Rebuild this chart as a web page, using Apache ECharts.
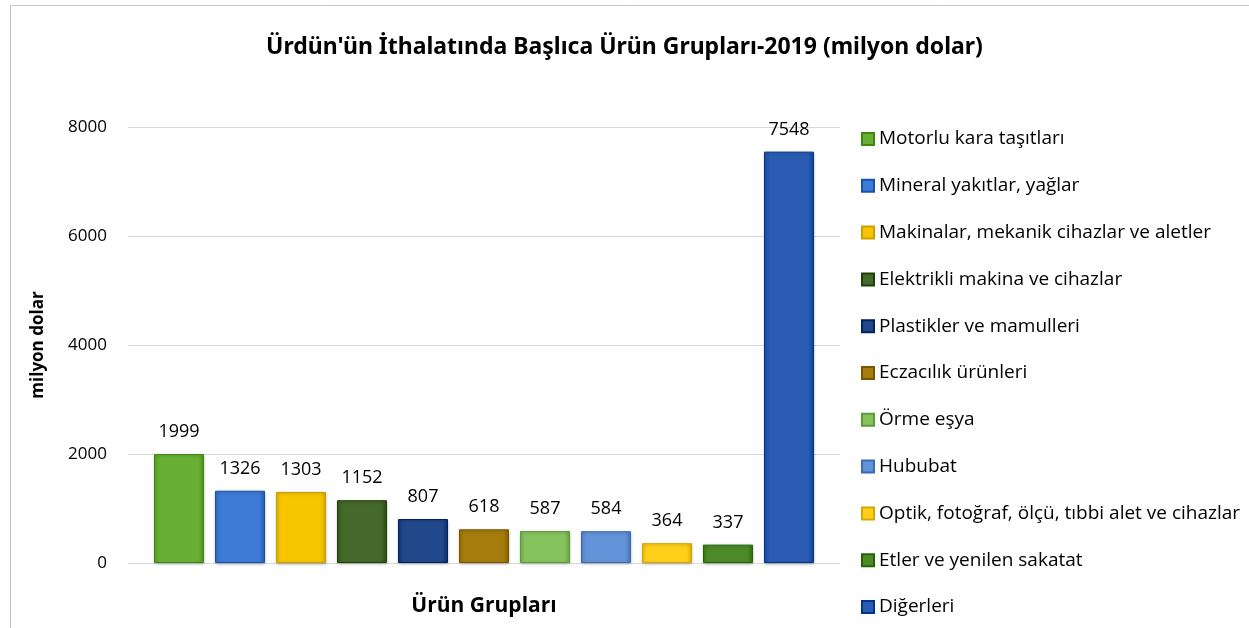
<!DOCTYPE html>
<html>
<head>
<meta charset="utf-8">
<title>Ürdün ithalat 2019</title>
<script src="https://cdn.jsdelivr.net/npm/echarts@6/dist/echarts.min.js"></script>
<style>
  html, body { margin: 0; padding: 0; background: #fff; }
  #main { width: 1249px; height: 628px; }
</style>
</head>
<body>
<div id="main"></div>
<script>
// ürün grupları ve değerleri (milyon dolar)
var categories = [
    'Motorlu kara taşıtları',
    'Mineral yakıtlar, yağlar',
    'Makinalar, mekanik cihazlar ve aletler',
    'Elektrikli makina ve cihazlar',
    'Plastikler ve mamulleri',
    'Eczacılık ürünleri',
    'Örme eşya',
    'Hububat',
    'Optik, fotoğraf, ölçü, tıbbi alet ve cihazlar',
    'Etler ve yenilen sakatat',
    'Diğerleri'
];
var values = [1999, 1326, 1303, 1152, 807, 618, 587, 584, 364, 337, 7548];
var colors = ['#67b035', '#3d7bd6', '#f7c600', '#44692b', '#21488a', '#a67c0c',
              '#86c25e', '#6393d8', '#ffcf1a', '#4c8a2a', '#2a5cb4'];

function shade(hex, amt) {
    var n = parseInt(hex.slice(1), 16);
    var r = Math.min(255, Math.max(0, (n >> 16) + amt));
    var g = Math.min(255, Math.max(0, ((n >> 8) & 255) + amt));
    var b = Math.min(255, Math.max(0, (n & 255) + amt));
    return 'rgb(' + r + ',' + g + ',' + b + ')';
}

var myChart = echarts.init(document.getElementById('main'));

var seriesList = [];
for (var i = 0; i < categories.length; i++) {
    seriesList.push({
        name: categories[i],
        type: 'bar',
        data: [values[i]],
        barWidth: 50,
        barGap: '22%',
        itemStyle: {
            color: {
                type: 'linear', x: 0, y: 0, x2: 1, y2: 0,
                colorStops: [
                    {offset: 0, color: shade(colors[i], -15)},
                    {offset: 0.12, color: colors[i]},
                    {offset: 0.88, color: colors[i]},
                    {offset: 1, color: shade(colors[i], -25)}
                ]
            },
            borderColor: shade(colors[i], -40),
            borderWidth: 1,
            shadowColor: 'rgba(0,0,0,0.25)',
            shadowBlur: 3,
            shadowOffsetY: 1
        },
        label: {
            show: true,
            position: 'top',
            distance: 13,
            color: '#000',
            fontSize: 18,
            fontFamily: 'Open Sans'
        }
    });
}

var option = {
    animation: false,
    title: {
        text: "Ürdün'ün İthalatında Başlıca Ürün Grupları-2019 (milyon dolar)",
        left: 'center',
        top: 31,
        textStyle: {fontSize: 23, fontWeight: 'bold', color: '#000', fontFamily: 'Noto Sans'}
    },
    legend: {
        orient: 'vertical',
        left: 856,
        top: 124,
        icon: 'rect',
        itemWidth: 12,
        itemHeight: 12,
        itemGap: 26.8,
        data: categories,
        textStyle: {fontSize: 19, lineHeight: 20, color: '#000', fontFamily: 'Open Sans'}
    },
    graphic: [{
        type: 'rect',
        shape: {x: 10.5, y: 5.5, width: 1400, height: 800},
        style: {fill: 'none', stroke: '#c4c4c4', lineWidth: 1}
    }],
    grid: {left: 128, right: 409, top: 127, bottom: 65},
    xAxis: {
        type: 'category',
        data: ['Ürün Grupları'],
        name: 'Ürün Grupları',
        nameLocation: 'middle',
        nameGap: 33,
        nameTextStyle: {fontSize: 21, fontWeight: 'bold', color: '#000', fontFamily: 'Open Sans'},
        axisLine: {lineStyle: {color: '#d9d9d9', width: 1}},
        axisTick: {show: false},
        axisLabel: {show: false}
    },
    yAxis: {
        type: 'value',
        min: 0,
        max: 8000,
        interval: 2000,
        name: 'milyon dolar',
        nameLocation: 'middle',
        nameGap: 81,
        nameTextStyle: {fontSize: 17, fontWeight: 'bold', color: '#000', fontFamily: 'Open Sans'},
        axisLine: {show: false},
        axisTick: {show: false},
        axisLabel: {
            fontSize: 17, color: '#000', margin: 21, fontFamily: 'Open Sans',
            formatter: function (v) { return String(v); }
        },
        splitLine: {lineStyle: {color: '#d9d9d9', width: 1}}
    },
    series: seriesList
};

myChart.setOption(option, true);
</script>
</body>
</html>
